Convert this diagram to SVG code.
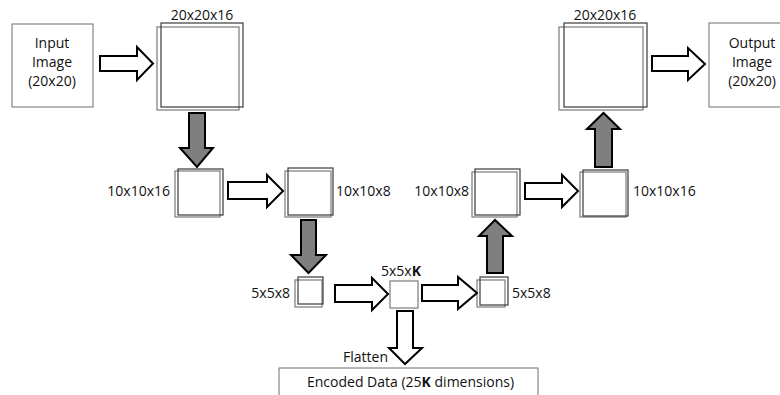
<svg xmlns="http://www.w3.org/2000/svg" width="780" height="395" viewBox="0 0 780 395">
<style>
text{font-family:"Open Sans","Liberation Sans",sans-serif;font-size:14px;fill:#111}
.box{fill:#fff;stroke:#6f6f6f;stroke-width:1}
.sa{fill:none;stroke:#3a3a3a;stroke-width:1.2}
.sb{fill:none;stroke:#7a7a7a;stroke-width:1.2}
.wa{fill:#fff;stroke:#000;stroke-width:2;stroke-linejoin:miter}
.ga{fill:#7f7f7f;stroke:#000;stroke-width:2;stroke-linejoin:miter}
</style>
<rect width="780" height="395" fill="#fff"/>
<g id="input">
<rect class="box" x="12" y="24" width="81" height="83"/>
<text x="52" y="48" text-anchor="middle">Input</text>
<text x="52" y="67" text-anchor="middle">Image</text>
<text x="52" y="86" text-anchor="middle">(20x20)</text>
</g>
<g id="enc1">
<rect class="sb" x="157" y="27" width="82" height="83"/>
<rect class="sa" x="161" y="23" width="82" height="84"/>
<text x="202" y="20" text-anchor="middle">20x20x16</text>
</g>
<g id="enc2">
<rect class="sb" x="175" y="171" width="45" height="46"/>
<rect class="sa" x="178" y="169" width="45" height="46"/>
<text x="170" y="196" text-anchor="end">10x10x16</text>
</g>
<g id="enc3">
<rect class="sb" x="285" y="171" width="46" height="46"/>
<rect class="sa" x="288" y="168" width="45" height="47"/>
<text x="336" y="196">10x10x8</text>
</g>
<g id="enc4">
<rect class="sb" x="295" y="280" width="27" height="27"/>
<rect class="sa" x="298" y="277" width="25" height="27"/>
<text x="290" y="298" text-anchor="end">5x5x8</text>
</g>
<g id="code">
<rect class="sb" x="390" y="281" width="28" height="27"/>
<text x="401" y="276" text-anchor="middle">5x5x<tspan font-weight="bold">K</tspan></text>
</g>
<g id="dec1">
<rect class="sb" x="477" y="280" width="28" height="27"/>
<rect class="sa" x="480" y="277" width="28" height="28"/>
<text x="512" y="298">5x5x8</text>
</g>
<g id="dec2">
<rect class="sb" x="472" y="172" width="45" height="45"/>
<rect class="sa" x="475" y="169" width="45" height="46"/>
<text x="469" y="196" text-anchor="end">10x10x8</text>
</g>
<g id="dec3">
<rect class="sb" x="580" y="172" width="46" height="45"/>
<rect class="sa" x="583" y="170" width="45" height="46"/>
<text x="633" y="196">10x10x16</text>
</g>
<g id="dec4">
<rect class="sb" x="559" y="27" width="84" height="83"/>
<rect class="sa" x="564" y="23" width="83" height="84"/>
<text x="605" y="20" text-anchor="middle">20x20x16</text>
</g>
<g id="output">
<rect class="box" x="709" y="23" width="86" height="84"/>
<text x="752" y="48" text-anchor="middle">Output</text>
<text x="752" y="67" text-anchor="middle">Image</text>
<text x="752" y="86" text-anchor="middle">(20x20)</text>
</g>
<g id="encoded">
<rect class="box" x="279" y="368" width="259" height="40"/>
<text x="307" y="387">Encoded Data (25<tspan font-weight="bold">K</tspan> dimensions)</text>
</g>
<g id="connectors">
<polygon class="wa" points="100,56 137,56 137,47 153,63.5 137,80 137,71 100,71"/>
<polygon class="ga" points="189,113 205,113 205,148 213,148 197,167 180,148 189,148"/>
<polygon class="wa" points="228,182 267,182 267,175 283,191 267,207 267,199 228,199"/>
<polygon class="ga" points="301,220 316,220 316,255 326,255 308.5,273 291,255 301,255"/>
<polygon class="wa" points="335,285 372,285 372,278 388,294 372,310 372,302 335,302"/>
<polygon class="wa" points="422,285 458,285 458,277 477,293 458,309 458,301 422,301"/>
<polygon class="wa" points="397,311 413,311 413,348 422,348 405,364 389,348 397,348"/>
<polygon class="ga" points="487,273 503,273 503,236 512,236 495,220 479,236 487,236"/>
<polygon class="wa" points="525,183 562,183 562,175 578,191 562,207 562,199 525,199"/>
<polygon class="ga" points="595,167 612,167 612,129 620,129 603.5,113 587,129 595,129"/>
<polygon class="wa" points="652,56 688,56 688,48 705,64 688,80 688,71 652,71"/>
<text x="388" y="362" text-anchor="end">Flatten</text>
</g>
</svg>
